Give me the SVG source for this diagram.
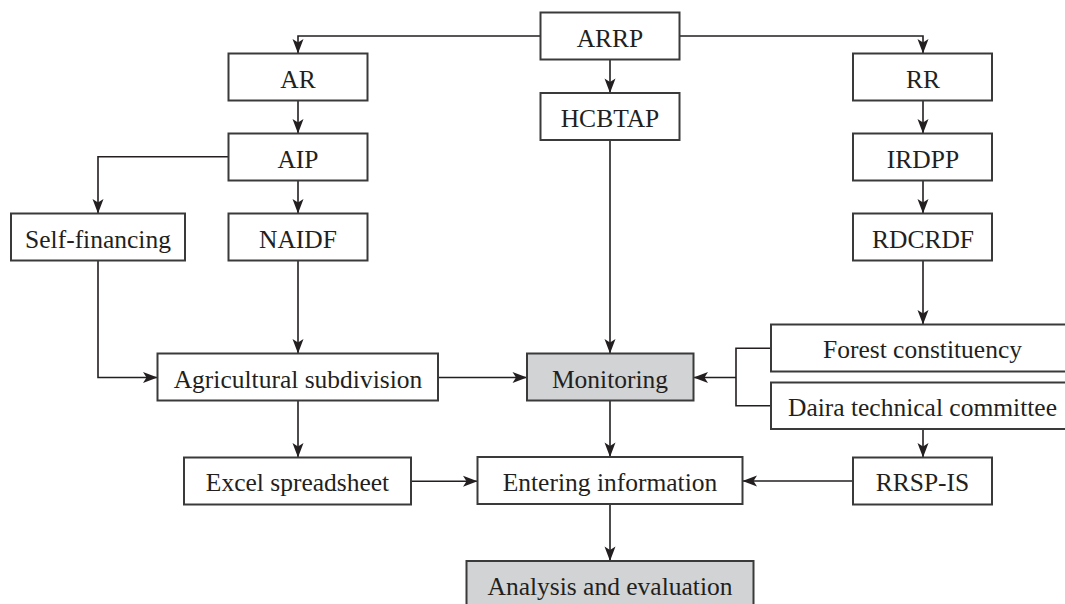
<svg xmlns="http://www.w3.org/2000/svg" width="1065" height="604" viewBox="0 0 1065 604">
<style>
.box{fill:#ffffff;stroke:#3a3a3a;stroke-width:2}
.hl{fill:#d1d3d4;stroke:#3a3a3a;stroke-width:2}
.lbl{font-family:"Liberation Serif","Times New Roman",serif;font-size:25.5px;fill:#231f20;text-anchor:middle}
.ln{fill:none;stroke:#231f20;stroke-width:1.6}
.arr{marker-end:url(#ah)}
</style>
<defs>
<marker id="ah" markerUnits="userSpaceOnUse" markerWidth="16" markerHeight="12" viewBox="0 0 16 12" refX="15" refY="6" orient="auto">
<path d="M1,0.5 L15.5,6 L1,11.5 L4.5,6 z" fill="#231f20"/>
</marker>
</defs>
<rect width="1065" height="604" fill="#ffffff"/>
<g id="connectors">
<path class="ln arr" d="M540.5,36 H298 V53"/>
<path class="ln arr" d="M679.5,36 H923 V53"/>
<path class="ln arr" d="M610,59.5 V92.5"/>
<path class="ln arr" d="M298,100.5 V133"/>
<path class="ln arr" d="M228.5,156.7 H98 V213"/>
<path class="ln arr" d="M298,180.5 V213"/>
<path class="ln arr" d="M923,100.5 V133"/>
<path class="ln arr" d="M923,180.5 V213"/>
<path class="ln arr" d="M98,260.5 V377.5 H157"/>
<path class="ln arr" d="M298,260.5 V353"/>
<path class="ln arr" d="M610,140 V353"/>
<path class="ln arr" d="M923,260.5 V324"/>
<path class="ln arr" d="M438,377.5 H526.5"/>
<path class="ln" d="M771,348.3 H736 V405.7 H771"/>
<path class="ln arr" d="M736,377.5 H694"/>
<path class="ln arr" d="M298,400 V457"/>
<path class="ln arr" d="M610,400 V456.5"/>
<path class="ln arr" d="M923,429 V457"/>
<path class="ln arr" d="M411,481.3 H477"/>
<path class="ln arr" d="M853,481 H743"/>
<path class="ln arr" d="M610,504 V560.5"/>
</g>
<g id="ARRP"><rect class="box" x="540.5" y="12.5" width="139" height="47"/><text class="lbl" x="610" y="46.5">ARRP</text></g>
<g id="AR"><rect class="box" x="228.5" y="53.5" width="139" height="47"/><text class="lbl" x="298" y="87.5">AR</text></g>
<g id="AIP"><rect class="box" x="228.5" y="133.5" width="139" height="47"/><text class="lbl" x="298" y="167.5">AIP</text></g>
<g id="NAIDF"><rect class="box" x="228.5" y="213.5" width="139" height="47"/><text class="lbl" x="298" y="247.5">NAIDF</text></g>
<g id="SelfFinancing"><rect class="box" x="11" y="213.5" width="174" height="47"/><text class="lbl" x="98" y="247.5">Self-financing</text></g>
<g id="HCBTAP"><rect class="box" x="540.5" y="93" width="139" height="47"/><text class="lbl" x="610" y="127">HCBTAP</text></g>
<g id="RR"><rect class="box" x="853" y="53.5" width="139" height="47"/><text class="lbl" x="923" y="87.5">RR</text></g>
<g id="IRDPP"><rect class="box" x="853" y="133.5" width="139" height="47"/><text class="lbl" x="923" y="167.5">IRDPP</text></g>
<g id="RDCRDF"><rect class="box" x="853" y="213.5" width="139" height="47"/><text class="lbl" x="923" y="247.5">RDCRDF</text></g>
<g id="AgriculturalSubdivision"><rect class="box" x="157.5" y="353.5" width="280.5" height="47"/><text class="lbl" x="298" y="387.5">Agricultural subdivision</text></g>
<g id="Monitoring"><rect class="hl" x="527" y="353.5" width="166.5" height="47"/><text class="lbl" x="610" y="387.5">Monitoring</text></g>
<g id="ForestConstituency"><rect class="box" x="771" y="324.5" width="310" height="47"/><text class="lbl" x="922.5" y="358">Forest constituency</text></g>
<g id="DairaTechnicalCommittee"><rect class="box" x="771" y="382.5" width="310" height="46.5"/><text class="lbl" x="922.5" y="416">Daira technical committee</text></g>
<g id="ExcelSpreadsheet"><rect class="box" x="184" y="457.5" width="227" height="47"/><text class="lbl" x="297.5" y="491">Excel spreadsheet</text></g>
<g id="EnteringInformation"><rect class="box" x="477.5" y="457" width="265" height="47"/><text class="lbl" x="610" y="490.5">Entering information</text></g>
<g id="RRSP-IS"><rect class="box" x="853" y="457.5" width="139" height="47"/><text class="lbl" x="922.5" y="491">RRSP-IS</text></g>
<g id="AnalysisEvaluation"><rect class="hl" x="466.5" y="561" width="287" height="60"/><text class="lbl" x="610" y="594.5">Analysis and evaluation</text></g>
</svg>
